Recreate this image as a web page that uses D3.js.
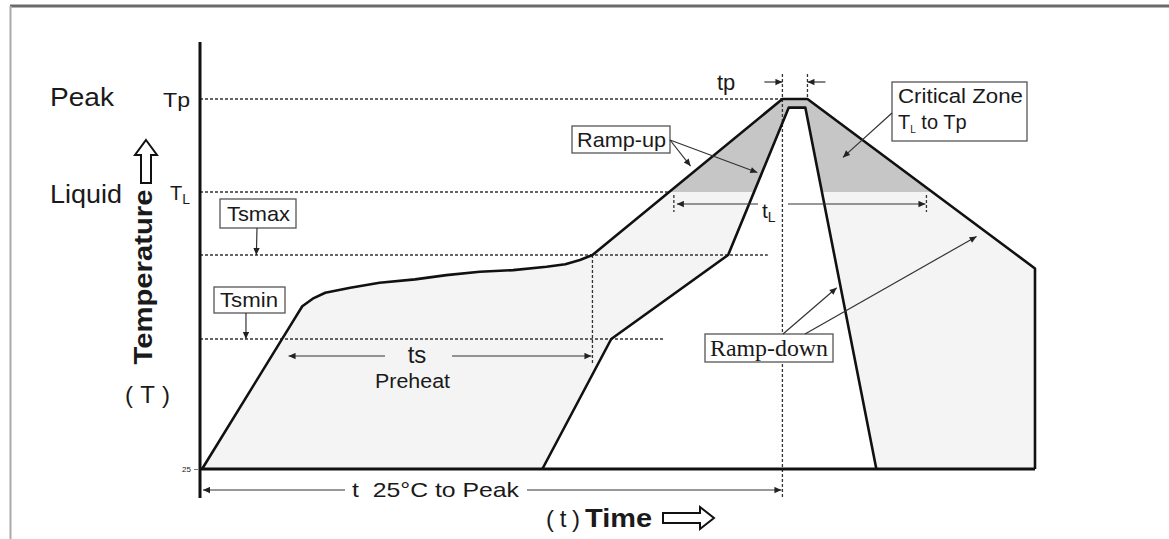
<!DOCTYPE html>
<html>
<head>
<meta charset="utf-8">
<script src="https://cdn.jsdelivr.net/npm/d3@7"></script>
<style>
  body { margin: 0; background: #fff; }
  text { font-family: "Liberation Sans", Arial, sans-serif; fill: #1a1a1a; }
</style>
</head>
<body>
<div id="chart"></div>
<script>
// Temperature levels (degC)
const baseTemp = 25;
const levelKeys = ['Tsmin', 'Tsmax', 'TL', 'Tp'];
const levelTemps = [150, 200, 217, 260];
// time (s) where each dotted level line stops
const levelLineEnds = [222, 272, 224, 279];

// Outer (maximum) profile: time (s) / temperature (degC)
const maxTime = [1, 46, 49, 54, 60, 72, 86, 103, 118, 134, 150, 166, 175, 182, 188, 279, 291, 400, 400];
const maxTemp = [25, 163.5, 169.5, 174, 177.5, 180.5, 183.5, 185.5, 188, 190, 191, 193, 194.5, 197, 200, 260, 260, 192, 25];

// Inner (minimum) profile
const minTime = [164, 197, 253, 282, 290, 324];
const minTemp = [25, 150, 200, 256, 256, 25];

// Time spans
const tsSpan = [41, 188];
const tLSpan = [227, 348];
const tpSpan = [279, 291];
const tPeakSpan = [0, 279];

function drawProfile(containerSelector) {
  const W = 1169, H = 539;

  const svg = d3.select(containerSelector)
    .append('svg')
    .attr('width', W)
    .attr('height', H);

  // Scales (schematic, piecewise temperature axis)
  const x = d3.scaleLinear()
    .domain([0, 400])
    .range([200, 1035]);

  const y = d3.scaleLinear()
    .domain([baseTemp, ...levelTemps])
    .range([469, 339, 255, 192, 99]);

  const tp = levelTemps[3], tl = levelTemps[2], tsmax = levelTemps[1], tsmin = levelTemps[0];

  // text helper: stretch glyphs to the measured width
  const fit = (sel, len) => sel.attr('textLength', len).attr('lengthAdjust', 'spacingAndGlyphs');

  // Arrow marker
  const defs = svg.append('defs');
  defs.append('marker')
    .attr('id', 'arrow')
    .attr('viewBox', '0 0 10 10')
    .attr('refX', 10)
    .attr('refY', 5)
    .attr('markerUnits', 'userSpaceOnUse')
    .attr('markerWidth', 8)
    .attr('markerHeight', 7)
    .attr('orient', 'auto')
    .append('path')
    .attr('d', 'M0,0.5 L10,5 L0,9.5 Z')
    .attr('fill', '#222');

  defs.append('clipPath')
    .attr('id', 'critical')
    .append('rect')
    .attr('x', 0).attr('y', 0)
    .attr('width', W).attr('height', y(tl));

  // Frame
  svg.append('line')
    .attr('x1', 10).attr('y1', 6).attr('x2', W).attr('y2', 6)
    .attr('stroke', '#6a6a6a').attr('stroke-width', 3);
  svg.append('line')
    .attr('x1', 10.5).attr('y1', 6).attr('x2', 10.5).attr('y2', H)
    .attr('stroke', '#aaa').attr('stroke-width', 2);

  const outer = maxTime.map((t, i) => [t, maxTemp[i]]);
  const inner = minTime.map((t, i) => [t, minTemp[i]]);
  const line = d3.line().x(d => x(d[0])).y(d => y(d[1]));

  // Fills
  svg.append('path').attr('d', line(outer) + 'Z').attr('fill', '#f4f4f4');
  svg.append('path').attr('d', line(outer) + 'Z').attr('fill', '#c6c6c6')
    .attr('clip-path', 'url(#critical)');
  svg.append('path').attr('d', line(inner) + 'Z').attr('fill', '#fff');

  // Dotted level lines
  const dotted = g => g.attr('stroke', '#333').attr('stroke-width', 1.3)
    .attr('stroke-dasharray', '3,2').attr('fill', 'none');

  svg.append('g').selectAll('line')
    .data(levelTemps)
    .join('line')
    .attr('x1', x(0)).attr('x2', (d, i) => x(levelLineEnds[i]))
    .attr('y1', d => y(d)).attr('y2', d => y(d))
    .call(dotted);

  // Dotted verticals
  svg.append('line')
    .attr('x1', x(tpSpan[0])).attr('x2', x(tpSpan[0]))
    .attr('y1', 74).attr('y2', 498).call(dotted);
  svg.append('line')
    .attr('x1', x(tpSpan[1])).attr('x2', x(tpSpan[1]))
    .attr('y1', 74).attr('y2', y(tp)).call(dotted);
  svg.append('line')
    .attr('x1', x(tsSpan[1])).attr('x2', x(tsSpan[1]))
    .attr('y1', y(tsmax)).attr('y2', y(tsmin) + 24).call(dotted);
  tLSpan.forEach(t => {
    svg.append('line')
      .attr('x1', x(t)).attr('x2', x(t))
      .attr('y1', y(tl) + 3).attr('y2', y(tl) + 20).call(dotted);
  });

  // Profile strokes
  svg.append('path').attr('d', line(outer))
    .attr('fill', 'none').attr('stroke', '#111').attr('stroke-width', 2.6)
    .attr('stroke-linejoin', 'round');
  svg.append('path').attr('d', line(inner))
    .attr('fill', 'none').attr('stroke', '#111').attr('stroke-width', 2.6)
    .attr('stroke-linejoin', 'round');
  svg.append('line')
    .attr('x1', x(0)).attr('x2', x(400))
    .attr('y1', y(baseTemp)).attr('y2', y(baseTemp))
    .attr('stroke', '#111').attr('stroke-width', 3);

  // Y axis
  svg.append('line')
    .attr('x1', x(0)).attr('x2', x(0)).attr('y1', 42).attr('y2', 498)
    .attr('stroke', '#111').attr('stroke-width', 3);

  const yAxis = svg.append('g')
    .attr('transform', `translate(${x(0) - 2},0)`)
    .call(d3.axisLeft(y).tickValues([baseTemp]).tickSize(4).tickPadding(3).tickFormat(d3.format('d')));
  yAxis.select('.domain').remove();
  yAxis.selectAll('text').attr('font-size', 8).attr('fill', '#555')
    .style('font-family', '"Liberation Sans", Arial, sans-serif');
  yAxis.selectAll('line').attr('stroke', '#777');

  // Level labels
  svg.append('text').attr('x', 163).attr('y', y(tp) + 8)
    .attr('font-size', 21).call(fit, 27).text('Tp');
  const tlLabel = svg.append('text').attr('x', 170).attr('y', y(tl) + 8).attr('font-size', 20);
  tlLabel.append('tspan').text('T');
  tlLabel.append('tspan').attr('font-size', 14).attr('dy', 4).text('L');

  svg.append('text').attr('x', 50).attr('y', y(tp) + 7)
    .attr('font-size', 26).call(fit, 64).text('Peak');
  svg.append('text').attr('x', 50).attr('y', y(tl) + 11)
    .attr('font-size', 26).call(fit, 72).text('Liquid');

  // Temperature axis title
  svg.append('text')
    .attr('transform', 'translate(152,277) rotate(-90)')
    .attr('text-anchor', 'middle')
    .attr('font-size', 26).attr('font-weight', 'bold')
    .call(fit, 175)
    .text('Temperature');
  svg.append('text')
    .attr('x', 125).attr('y', 403)
    .attr('font-size', 24).attr('textLength', 45)
    .style('white-space', 'pre')
    .text('( T )');
  svg.append('path')
    .attr('d', 'M146,140 L157,155 L151,155 L151,183 L141,183 L141,155 L135,155 Z')
    .attr('fill', '#fff').attr('stroke', '#111').attr('stroke-width', 2);

  // Time axis title
  svg.append('text')
    .attr('x', 546).attr('y', 527)
    .attr('font-size', 24).attr('textLength', 34)
    .style('white-space', 'pre')
    .text('( t )');
  svg.append('text')
    .attr('x', 585).attr('y', 527)
    .attr('font-size', 26).attr('font-weight', 'bold')
    .call(fit, 67)
    .text('Time');
  svg.append('path')
    .attr('d', 'M663,513 L700,513 L700,507 L714,518 L700,529 L700,523 L663,523 Z')
    .attr('fill', '#fff').attr('stroke', '#111').attr('stroke-width', 2);

  // Span arrows
  const thin = g => g.attr('stroke', '#333').attr('stroke-width', 1.2)
    .attr('marker-end', 'url(#arrow)');

  function span(t0, t1, yy, gapL, gapR) {
    svg.append('line')
      .attr('x1', gapL).attr('x2', x(t0) + 3)
      .attr('y1', yy).attr('y2', yy).call(thin);
    svg.append('line')
      .attr('x1', gapR).attr('x2', x(t1) - 1)
      .attr('y1', yy).attr('y2', yy).call(thin);
  }

  // t 25C to peak
  span(tPeakSpan[0], tPeakSpan[1], 490, 345, 527);
  svg.append('text').attr('x', 352).attr('y', 497)
    .attr('font-size', 21)
    .style('white-space', 'pre')
    .call(fit, 167)
    .text('t  25\u00b0C to Peak');

  // ts preheat
  span(tsSpan[0], tsSpan[1], 356, 385, 452);
  svg.append('text').attr('x', 417).attr('y', 363)
    .attr('text-anchor', 'middle').attr('font-size', 24).text('ts');
  svg.append('text').attr('x', 375).attr('y', 388)
    .attr('font-size', 20).call(fit, 75).text('Preheat');

  // tL
  span(tLSpan[0], tLSpan[1], y(tl) + 12, 758, 788);
  const tLLabel = svg.append('text').attr('x', 762).attr('y', y(tl) + 26).attr('font-size', 21);
  tLLabel.append('tspan').text('t');
  tLLabel.append('tspan').attr('font-size', 14).attr('dy', 4).text('L');

  // tp
  svg.append('line')
    .attr('x1', x(tpSpan[0]) - 18).attr('x2', x(tpSpan[0]))
    .attr('y1', 82).attr('y2', 82).call(thin);
  svg.append('line')
    .attr('x1', x(tpSpan[1]) + 18).attr('x2', x(tpSpan[1]))
    .attr('y1', 82).attr('y2', 82).call(thin);
  svg.append('text').attr('x', 717).attr('y', 90)
    .attr('font-size', 22).text('tp');

  // Callout boxes
  function box(x0, y0, w, h) {
    svg.append('rect')
      .attr('x', x0).attr('y', y0).attr('width', w).attr('height', h)
      .attr('fill', '#fff').attr('stroke', '#555').attr('stroke-width', 1.3);
  }
  function pointer(px, py, t, temp) {
    svg.append('line')
      .attr('x1', px).attr('y1', py).attr('x2', x(t)).attr('y2', y(temp))
      .call(thin);
  }

  box(220, 199, 76, 29);
  svg.append('text').attr('x', 227).attr('y', 221)
    .attr('font-size', 21).call(fit, 63).text('Tsmax');
  pointer(257, 228, 27, tsmax);

  box(214, 287, 71, 26);
  svg.append('text').attr('x', 220).attr('y', 307)
    .attr('font-size', 21).call(fit, 58).text('Tsmin');
  pointer(246, 313, 22, tsmin);

  box(572, 126, 98, 27);
  svg.append('text').attr('x', 577).attr('y', 147)
    .attr('font-size', 21).call(fit, 89).text('Ramp-up');
  pointer(670, 140, 235, 229);
  pointer(670, 140, 267, 226);

  box(892, 82, 135, 59);
  svg.append('text').attr('x', 898).attr('y', 103)
    .attr('font-size', 20).call(fit, 125).text('Critical Zone');
  const cz = svg.append('text').attr('x', 898).attr('y', 129).attr('font-size', 20);
  cz.append('tspan').text('T');
  cz.append('tspan').attr('font-size', 10).attr('dy', 4).text('L');
  cz.append('tspan').attr('dy', -4).text(' to Tp');
  pointer(892, 113, 308, 233);

  box(705, 334, 128, 28);
  svg.append('text').attr('x', 710).attr('y', 356)
    .style('font-family', '"Liberation Serif", "Times New Roman", serif')
    .attr('font-size', 23).call(fit, 118).text('Ramp-down');
  pointer(783, 334, 305, 180.5);
  pointer(805, 334, 372, 205);
}

drawProfile('#chart');
</script>
</body>
</html>
